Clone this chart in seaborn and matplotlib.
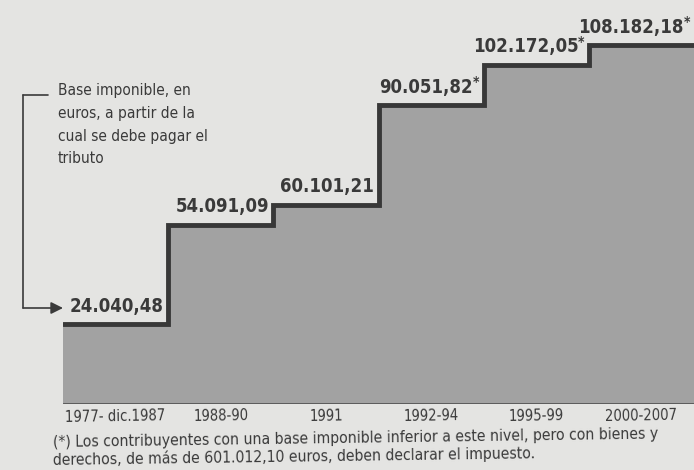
import numpy as np
import matplotlib.pyplot as plt
import seaborn as sns
from matplotlib import font_manager

# data
periods = ["1977- dic.1987", "1988-90", "1991", "1992-94", "1995-99", "2000-2007"]
thresholds = [24040.48, 54091.09, 60101.21, 90051.82, 102172.05, 108182.18]
value_labels = ["24.040,48", "54.091,09", "60.101,21", "90.051,82*", "102.172,05*", "108.182,18*"]
note_text = "Base imponible, en\neuros, a partir de la\ncual se debe pagar el\ntributo"
footnote = ("(*) Los contribuyentes con una base imponible inferior a este nivel, pero con bienes y\n"
            "derechos, de más de 601.012,10 euros, deben declarar el impuesto.")

sns.set_theme(style="white")

# pick a narrow face if one is installed
names = {f.name for f in font_manager.fontManager.ttflist}
stretch = "normal"
if "Liberation Sans Narrow" in names:
    family = ["Liberation Sans Narrow", "DejaVu Sans"]
    shrink = 1.0
elif any(f.name == "DejaVu Sans" and f.stretch == "condensed" for f in font_manager.fontManager.ttflist):
    family = ["DejaVu Sans"]
    stretch = "condensed"
    shrink = 0.92
else:
    family = ["DejaVu Sans"]
    shrink = 0.85
plt.rcParams['font.family'] = family
plt.rcParams['font.stretch'] = stretch

paper = "#e4e4e2"
fill_col = "#a2a2a2"
line_col = "#383838"
text_col = "#3a3a3a"

fig = plt.figure(figsize=(6.94, 4.70), dpi=100, facecolor=paper)
ax = fig.add_axes([63 / 694, 66 / 470, 631 / 694, 404 / 470])
ax.set_facecolor(paper)

edges = np.arange(len(thresholds) + 1)
steps = thresholds + [thresholds[-1]]

ax.fill_between(edges, steps, 0, step="post", color=fill_col, lw=0)
sns.lineplot(x=edges, y=steps, drawstyle="steps-post", color=line_col,
             lw=3.5, ax=ax, solid_joinstyle="miter")
ax.axhline(0, color="#555555", lw=2)

# labels sit right-aligned just inside the end of each step
for i, (v, lab) in enumerate(zip(thresholds, value_labels)):
    num = lab.rstrip("*")
    x_end = i + 1 - 0.04
    if lab.endswith("*"):
        ax.text(x_end, v + 9000, "*", ha="right", va="top",
                fontsize=11 * shrink, fontweight="bold", color=text_col)
        ax.annotate(num, xy=(x_end, v + 2600), xycoords="data",
                    xytext=(-4.5, 0), textcoords="offset points",
                    ha="right", va="bottom", fontsize=14.5 * shrink,
                    fontweight="bold", color=text_col)
    else:
        ax.text(x_end, v + 2600, num, ha="right", va="bottom", fontsize=14.5 * shrink,
                fontweight="bold", color=text_col)

ax.set_xlim(0, len(thresholds))
ax.set_ylim(0, 121800)
ax.set_yticks([])
ax.set_xticks(edges[:-1] + 0.5)
ax.set_xticklabels(periods, fontsize=11.5 * shrink, color=text_col, rotation=1)
ax.tick_params(axis="x", length=0, pad=3)
for s in ax.spines.values():
    s.set_visible(False)

# annotation with bracket arrow
fig.text(58 / 694, 1 - 83 / 470, note_text, ha="left", va="top", fontsize=12 * shrink,
         color=text_col, linespacing=1.65)
fig.add_artist(plt.Line2D([23 / 694, 48 / 694], [1 - 95 / 470, 1 - 95 / 470],
                          color=text_col, lw=1.2))
fig.add_artist(plt.Line2D([23 / 694, 23 / 694], [1 - 95 / 470, 1 - 308 / 470],
                          color=text_col, lw=1.2))
ax.annotate("", xy=(63 / 694, 1 - 308 / 470), xytext=(23 / 694, 1 - 308 / 470),
            xycoords="figure fraction", textcoords="figure fraction",
            arrowprops=dict(arrowstyle="-|>", color=text_col, lw=1.2,
                            mutation_scale=18, shrinkA=0, shrinkB=0))

fig.text(53 / 694, 1 - 427 / 470, footnote, ha="left", va="top", fontsize=12.2 * shrink,
         color=text_col, linespacing=1.12, rotation=0.8)

fig.savefig("out.png", dpi=100, facecolor=paper)
